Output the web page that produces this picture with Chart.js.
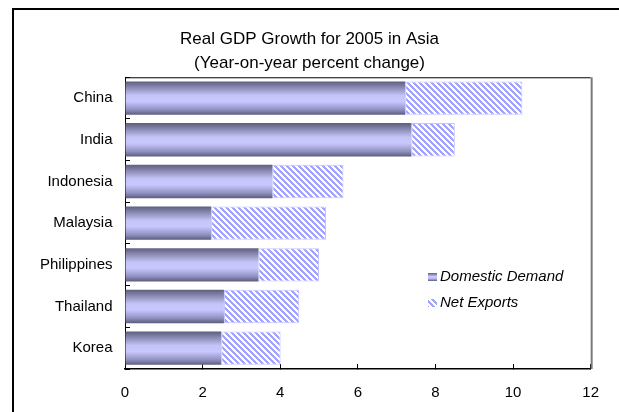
<!DOCTYPE html>
<html>
<head>
<meta charset="utf-8">
<title>Real GDP Growth for 2005 in Asia</title>
<script src="https://cdn.jsdelivr.net/npm/chart.js@4.4.1/dist/chart.umd.min.js"></script>
<style>
  html, body { margin: 0; padding: 0; background: #ffffff; }
  #wrap { width: 619px; height: 412px; position: relative; }
</style>
</head>
<body>
<div id="wrap"><canvas id="gdpChart" width="619" height="412"></canvas></div>
<script>
const countries = ['China', 'India', 'Indonesia', 'Malaysia', 'Philippines', 'Thailand', 'Korea'];
const domesticDemand = [7.22, 7.38, 3.80, 2.22, 3.44, 2.55, 2.48];
const netExports = [3.02, 1.12, 1.83, 2.96, 1.56, 1.94, 1.53];
const axisMin = 0;
const axisMax = 12;
const axisStep = 2;
const titleLines = ['Real GDP Growth for 2005 in Asia', '(Year-on-year percent change)'];
const seriesNames = ['Domestic Demand', 'Net Exports'];

const FONT = 'Arial, "Liberation Sans", sans-serif';

// diagonal hatch fill for net exports
function makeHatch() {
  const tile = document.createElement('canvas');
  tile.width = 6;
  tile.height = 6;
  const t = tile.getContext('2d');
  t.fillStyle = '#ffffff';
  t.fillRect(0, 0, 6, 6);
  t.fillStyle = '#a2a2ff';
  for (let y = 0; y < 6; y++) {
    for (let x = 0; x < 6; x++) {
      if (((x - y) % 6 + 6) % 6 < 3) t.fillRect(x, y, 1, 1);
    }
  }
  return document.getElementById('gdpChart').getContext('2d').createPattern(tile, 'repeat');
}
const hatch = makeHatch();

function tubeGradient(ctx, y0, y1) {
  const g = ctx.createLinearGradient(0, y0, 0, y1);
  g.addColorStop(0, '#5e5e7e');
  g.addColorStop(0.15, '#8282aa');
  g.addColorStop(0.42, '#c4c4f8');
  g.addColorStop(0.6, '#c8c8ff');
  g.addColorStop(0.85, '#9090c0');
  g.addColorStop(1, '#5c5c7c');
  return g;
}

// vertical shading per bar, based on where the category sits
function domesticFill(context) {
  const chart = context.chart;
  if (!chart.chartArea) return '#a0a0d0';
  const yScale = chart.scales.y;
  const yc = yScale.getPixelForValue(context.dataIndex);
  const half = Math.abs(yScale.getPixelForValue(1) - yScale.getPixelForValue(0)) * 0.8 / 2;
  return tubeGradient(chart.ctx, yc - half, yc + half);
}

const framePlugin = {
  id: 'frame',
  beforeDraw(chart) {
    const ctx = chart.ctx;
    ctx.save();
    ctx.strokeStyle = '#000000';
    ctx.lineWidth = 2;
    ctx.strokeRect(13, 9, 700, 500);
    ctx.restore();
  },
  afterDraw(chart) {
    const ctx = chart.ctx;
    const a = chart.chartArea;
    ctx.save();
    // top edge of plot
    ctx.strokeStyle = '#000000';
    ctx.lineWidth = 1;
    ctx.beginPath();
    ctx.moveTo(a.left, a.top + 0.5);
    ctx.lineTo(a.right, a.top + 0.5);
    ctx.stroke();
    // right edge with a soft shadow
    ctx.strokeStyle = '#7a7a7a';
    ctx.lineWidth = 2;
    ctx.beginPath();
    ctx.moveTo(a.right + 1, a.top);
    ctx.lineTo(a.right + 1, a.bottom);
    ctx.stroke();

    // legend inside the plot
    const lx = 428, ly = [273, 299];
    ctx.fillStyle = tubeGradient(ctx, ly[0], ly[0] + 8);
    ctx.fillRect(lx, ly[0], 9, 8);
    ctx.fillStyle = hatch;
    ctx.fillRect(lx, ly[1], 9, 8);
    ctx.fillStyle = '#000000';
    ctx.font = 'italic 15px ' + FONT;
    ctx.textAlign = 'left';
    ctx.textBaseline = 'middle';
    ctx.fillText(seriesNames[0], 440, ly[0] + 4);
    ctx.fillText(seriesNames[1], 440, ly[1] + 4);
    ctx.restore();
  }
};

new Chart(document.getElementById('gdpChart'), {
  type: 'bar',
  data: {
    labels: countries,
    datasets: [
      {
        label: seriesNames[0],
        data: domesticDemand,
        backgroundColor: domesticFill,
        borderWidth: 0,
        barPercentage: 0.8,
        categoryPercentage: 1.0
      },
      {
        label: seriesNames[1],
        data: netExports,
        backgroundColor: hatch,
        borderColor: '#c4c4ff',
        borderWidth: 1,
        borderSkipped: false,
        barPercentage: 0.8,
        categoryPercentage: 1.0
      }
    ]
  },
  options: {
    indexAxis: 'y',
    responsive: false,
    animation: false,
    layout: { padding: 0 },
    scales: {
      x: {
        stacked: true,
        min: axisMin,
        max: axisMax,
        ticks: {
          stepSize: axisStep,
          color: '#000000',
          font: { family: FONT, size: 15 },
          padding: 20,
          maxRotation: 0
        },
        grid: {
          drawOnChartArea: false,
          tickLength: -5,
          color: '#000000'
        },
        border: { color: '#000000', width: 1.5 },
        afterFit(scale) { scale.height = 43; }
      },
      y: {
        stacked: true,
        ticks: {
          color: '#000000',
          font: { family: FONT, size: 15 },
          padding: 17.5
        },
        grid: {
          drawOnChartArea: false,
          tickLength: -5,
          color: '#000000'
        },
        border: { color: '#000000', width: 1 },
        afterFit(scale) { scale.width = 125; }
      },
      y2: {
        position: 'right',
        display: true,
        ticks: { display: false },
        grid: { display: false },
        border: { display: false },
        afterFit(scale) { scale.width = 27; }
      }
    },
    plugins: {
      legend: { display: false },
      tooltip: { enabled: false },
      title: {
        display: true,
        text: titleLines,
        color: '#000000',
        font: { family: FONT, size: 17, weight: 'normal', lineHeight: 1.42 },
        padding: { top: 27, bottom: 2 }
      }
    }
  },
  plugins: [framePlugin]
});
</script>
</body>
</html>
